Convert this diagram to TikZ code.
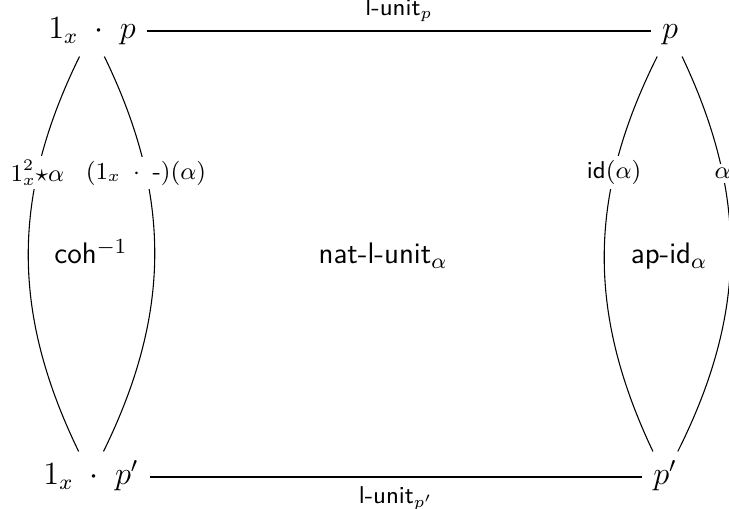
\documentclass[tikz,border=0pt]{standalone}
\usepackage{amsmath}
\begin{document}
\begin{tikzpicture}[x=0.3704pt,y=0.3704pt,
  obj/.style={font=\large,text height=8pt,text depth=2.5pt,inner sep=4pt},
  lbl/.style={font=\small,fill=white,inner sep=1.5pt},
  edgelbl/.style={font=\small},
  region/.style={font=\fontsize{11}{13}\selectfont,anchor=base}]
  \useasboundingbox (0,0) rectangle (729,509);
  \node[obj] (onep) at (92,478) {$1_x \;\cdot\; p$};
  \node[obj] (onepp) at (91,32) {$1_x \;\cdot\; p'$};
  \node[obj] (p) at (670,478) {$p$};
  \node[obj] (pp) at (665,32) {$p'$};
  \node[region] (coh) at (91,245) {\textsf{coh}$^{-1}$};
  \node[region] (nat) at (383,245) {\textsf{nat-l-unit}$_\alpha$};
  \node[region] (apid) at (669,245) {\textsf{ap-id}$_\alpha$};
  \draw (onep) -- (p) node[midway,above,edgelbl] {\textsf{l-unit}$_p$};
  \draw (onepp) -- (pp) node[midway,below,edgelbl] {\textsf{l-unit}$_{p'}$};
  \draw (onep) to[bend right=26] node[pos=0.29,lbl] {$1_x^2{\star}\alpha$} (onepp);
  \draw (onep) to[bend left=26] node[pos=0.29,lbl] {$(1_x \;\cdot\; \text{-})(\alpha)$} (onepp);
  \draw (p) to[bend right=26] node[pos=0.29,lbl] {\textsf{id}$(\alpha)$} (pp);
  \draw (p) to[bend left=26] node[pos=0.29,lbl] {$\alpha$} (pp);
\end{tikzpicture}
\end{document}
